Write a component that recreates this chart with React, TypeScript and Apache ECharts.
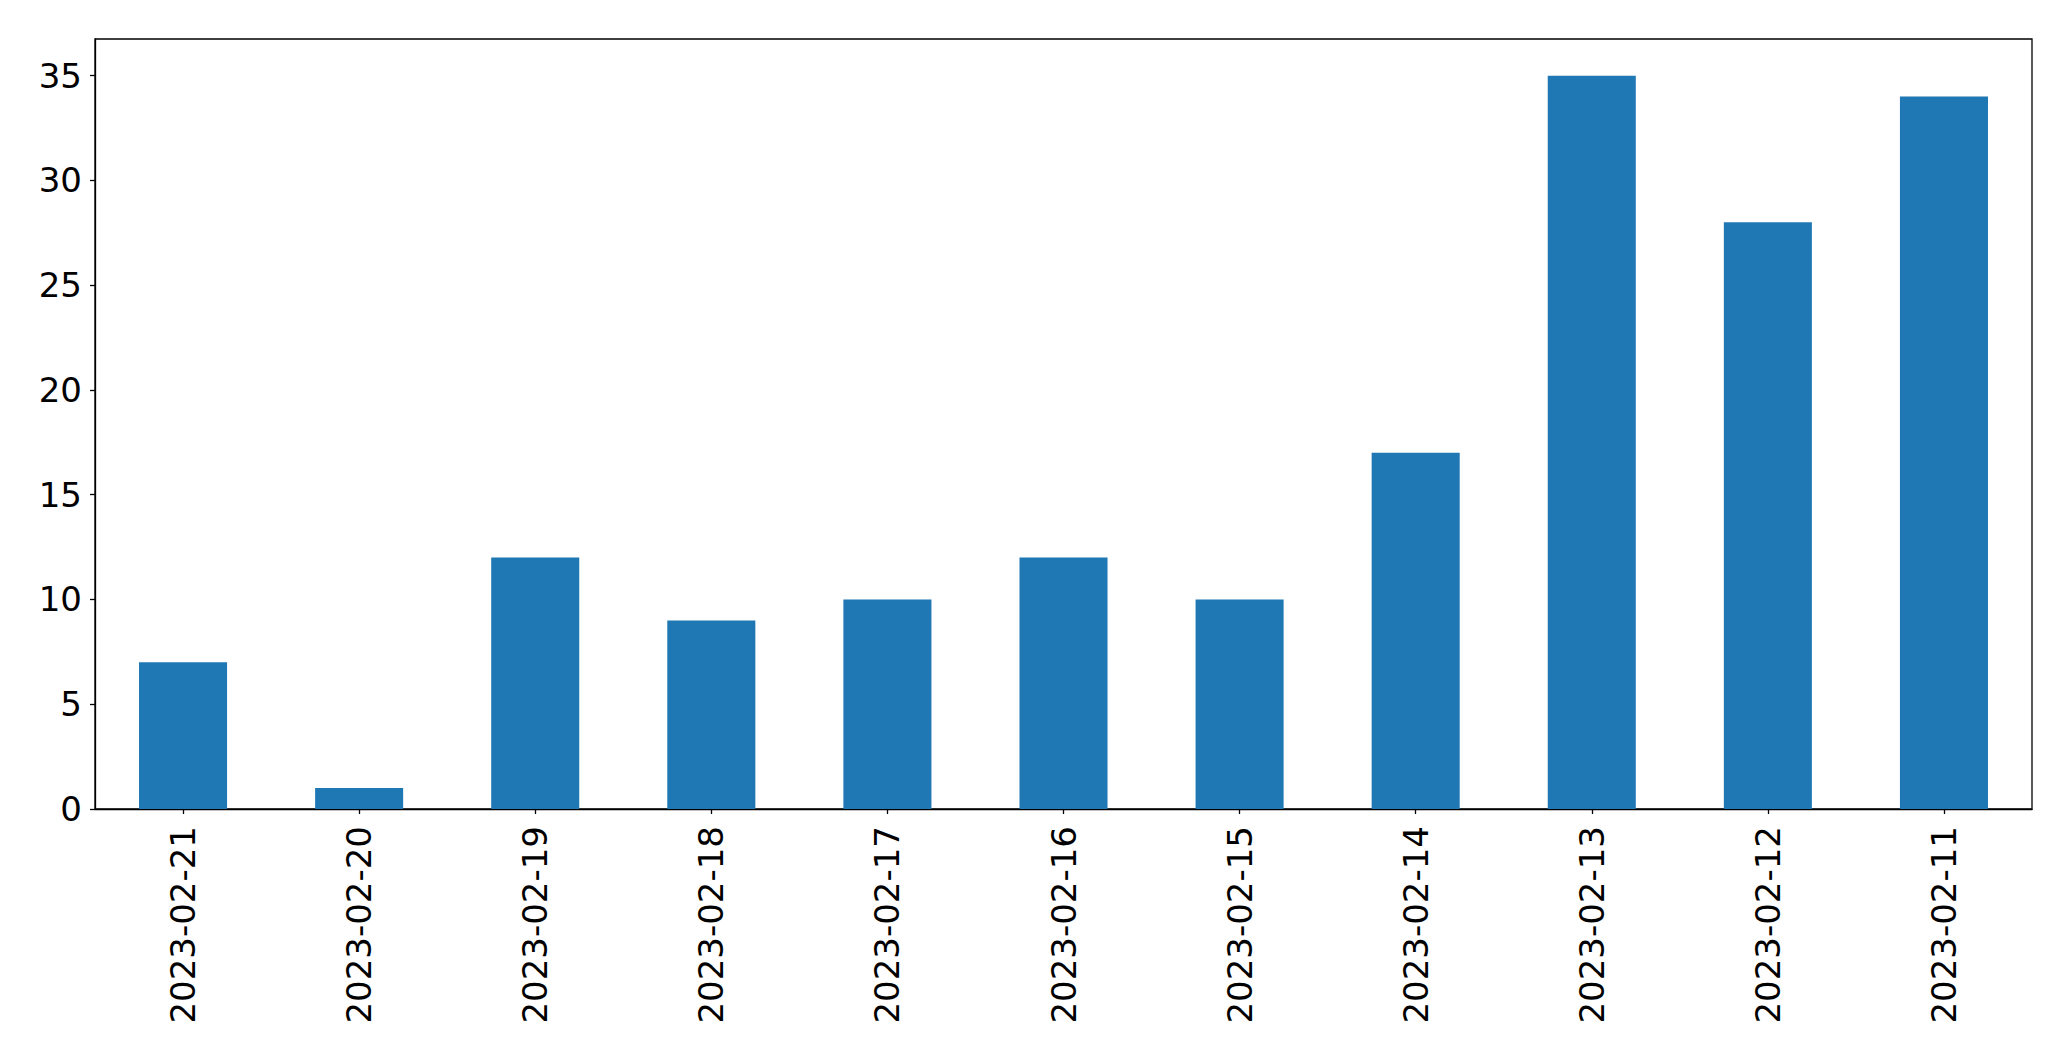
import React, { useEffect, useRef } from "react";
import * as echarts from "echarts";

const categories = [
  "2023-02-21", "2023-02-20", "2023-02-19", "2023-02-18", "2023-02-17", "2023-02-16",
  "2023-02-15", "2023-02-14", "2023-02-13", "2023-02-12", "2023-02-11",
];
const values = [7, 1, 12, 9, 10, 12, 10, 17, 35, 28, 34];
const yTicks = [0, 5, 10, 15, 20, 25, 30, 35];

export default function App() {
  const ref = useRef<HTMLDivElement>(null);
  useEffect(() => {
    if (!ref.current) return;
    const chart = echarts.init(ref.current, null, { renderer: "svg" });
    const font = "DejaVu Sans";
    chart.setOption({
      animation: false,
      backgroundColor: "#ffffff",
      grid: {
        left: 95, right: 39, top: 39, bottom: 252,
        show: true, borderColor: "#000", borderWidth: 1.3, backgroundColor: "transparent",
      },
      xAxis: {
        type: "category",
        data: categories,
        boundaryGap: true,
        axisLine: { show: true, lineStyle: { color: "#000", width: 1.3 } },
        axisTick: { show: true, alignWithLabel: true, length: 5, lineStyle: { color: "#000", width: 1.3 } },
        axisLabel: { rotate: 90, fontFamily: font, fontSize: 34, color: "#000", margin: 17, interval: 0 },
        splitLine: { show: false },
      },
      yAxis: {
        type: "value",
        min: 0,
        max: 36.75,
        axisLine: { show: true, lineStyle: { color: "#000", width: 1.3 } },
        axisTick: { show: true, length: 5, customValues: yTicks, lineStyle: { color: "#000", width: 1.3 } },
        axisLabel: { fontFamily: font, fontSize: 34, color: "#000", margin: 13, customValues: yTicks },
        splitLine: { show: false },
      },
      series: [
        {
          type: "bar",
          data: values,
          barWidth: "50%",
          itemStyle: { color: "#1f77b4" },
        },
      ],
    });
    return () => chart.dispose();
  }, []);
  return (
    <div
      ref={ref}
      style={{ position: "fixed", left: 0, top: 0, width: 2071, height: 1061, background: "#fff" }}
    />
  );
}
